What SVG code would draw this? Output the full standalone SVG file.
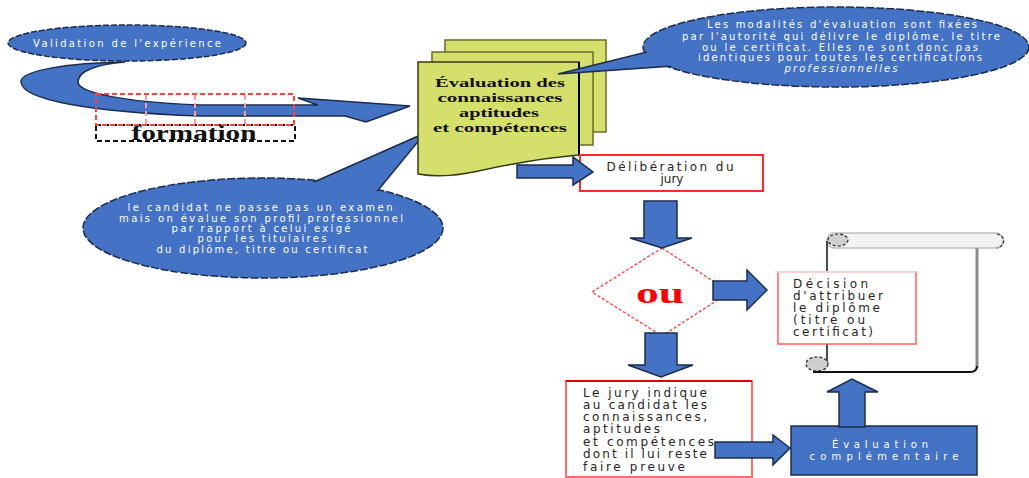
<svg xmlns="http://www.w3.org/2000/svg" width="1029" height="478" viewBox="0 0 1029 478">
<style>
.blue{fill:#4472c4;stroke:#1c2c4c;stroke-width:1.5}
.bfill{fill:#4472c4;stroke:none}
.wt{fill:#ffffff;font-family:"DejaVu Sans",sans-serif;font-size:10px;text-anchor:middle}
.dt{fill:#262626;font-family:"DejaVu Sans",sans-serif;font-size:12px}
.yel{fill:#d5df6c}
.ser{font-family:"Liberation Serif",serif;font-weight:bold;fill:#111}
</style>
<rect width="1029" height="478" fill="#ffffff"/>

<g id="validation">
  <ellipse cx="127" cy="43" rx="119" ry="18" class="blue" stroke-dasharray="6,2"/>
  <text class="wt" x="127" y="47" textLength="188" lengthAdjust="spacing">Validation de l'expérience</text>
</g>

<g id="formation">
  <rect x="96" y="125" width="199" height="16" fill="none" stroke="#111" stroke-width="2" stroke-dasharray="5,3"/>
  <text class="ser" x="194" y="140" font-size="20" text-anchor="middle" textLength="125" lengthAdjust="spacingAndGlyphs">formation</text>
</g>

<g id="callout-bas">
  <ellipse cx="263" cy="228" rx="180" ry="50" class="blue" stroke-dasharray="8,2"/>
  <polygon points="305,186 425,133 375,194" class="blue"/>
  <ellipse cx="263" cy="228" rx="178" ry="48" class="bfill"/>
  <text class="wt" x="260" y="211" textLength="265" lengthAdjust="spacing">le candidat ne passe pas un examen</text>
  <text class="wt" x="261" y="222" textLength="284" lengthAdjust="spacing">mais on évalue son profil professionnel</text>
  <text class="wt" x="261" y="232" textLength="179" lengthAdjust="spacing">par rapport à celui exigé</text>
  <text class="wt" x="262" y="242" font-size="9" textLength="129" lengthAdjust="spacing">pour les titulaires</text>
  <text class="wt" x="262" y="253" textLength="211" lengthAdjust="spacing">du diplôme, titre ou certificat</text>
</g>

<g id="evaluation">
  <rect x="445" y="40" width="161" height="92" class="yel" stroke="#6b6b2a" stroke-width="1.5"/>
  <rect x="432" y="52" width="161" height="93" class="yel" stroke="#6b6b2a" stroke-width="1.5"/>
  <path d="M418,62 L579,62 L579,155 C555,157 520,162 483,170 C460,175 440,178 418,174 Z" class="yel" stroke="#3a3a10" stroke-width="1.5"/>
  <line x1="579" y1="62" x2="579" y2="156" stroke="#000" stroke-width="2"/>
  <text class="ser" x="500" y="87" font-size="13" text-anchor="middle" textLength="130" lengthAdjust="spacingAndGlyphs">Évaluation des</text>
  <text class="ser" x="500" y="102" font-size="13" text-anchor="middle" textLength="125" lengthAdjust="spacingAndGlyphs">connaissances</text>
  <text class="ser" x="499" y="117" font-size="13" text-anchor="middle" textLength="80" lengthAdjust="spacingAndGlyphs">aptitudes</text>
  <text class="ser" x="500" y="132" font-size="13" text-anchor="middle" textLength="134" lengthAdjust="spacingAndGlyphs">et compétences</text>
</g>

<g id="callout-haut">
  <ellipse cx="836" cy="47" rx="193" ry="40" class="blue" stroke-dasharray="8,2"/>
  <polygon points="655,50 558,74 672,66" class="blue"/>
  <ellipse cx="836" cy="47" rx="191" ry="38" class="bfill"/>
  <text class="wt" x="842" y="28" textLength="270" lengthAdjust="spacing">Les modalités d'évaluation sont fixées</text>
  <text class="wt" x="841" y="40" textLength="318" lengthAdjust="spacing">par l'autorité qui délivre le diplôme, le titre</text>
  <text class="wt" x="840" y="51" textLength="276" lengthAdjust="spacing">ou le certificat. Elles ne sont donc pas</text>
  <text class="wt" x="840" y="61" textLength="284" lengthAdjust="spacing">identiques pour toutes les certifications</text>
  <text class="wt" x="841" y="72" font-style="italic" textLength="113" lengthAdjust="spacing">professionnelles</text>
</g>

<g id="deliberation">
  <rect x="580" y="155" width="183" height="36" fill="#fff" stroke="#ff2a2a" stroke-width="2"/>
  <text class="dt" x="670" y="171" text-anchor="middle" fill="#444" textLength="127" lengthAdjust="spacing">Délibération du</text>
  <text class="dt" x="672" y="183" text-anchor="middle" fill="#444">jury</text>
</g>

<g id="ou">
  <polygon points="662,248 730,292 662,336 592,292" fill="#fff" stroke="#ff5050" stroke-width="1.5" stroke-dasharray="3,2"/>
  <text x="660" y="303" font-family="Liberation Serif,serif" font-weight="bold" font-size="29" fill="#ff0000" text-anchor="middle" textLength="48" lengthAdjust="spacingAndGlyphs">ou</text>
</g>

<g id="parchemin">
  <rect x="827" y="233" width="176" height="15" rx="7" fill="#f2f2f2" stroke="#bdbdbd" stroke-width="1.5"/>
  <ellipse cx="838" cy="240" rx="10" ry="6" fill="#cfcfcf" stroke="#222" stroke-width="1.2" stroke-dasharray="3,2"/>
  <path d="M997,234 C1006,236 1006,246 997,248" fill="none" stroke="#222" stroke-width="1.2" stroke-dasharray="3,2"/>
  <line x1="827" y1="241" x2="827" y2="362" stroke="#111" stroke-width="1.5"/>
  <line x1="977" y1="248" x2="977" y2="368" stroke="#8a8a8a" stroke-width="3"/>
  <path d="M813,372 L970,372 C974,372 977,370 977,366" fill="none" stroke="#111" stroke-width="2"/>
  <ellipse cx="817" cy="364" rx="11" ry="7" fill="#cfcfcf" stroke="#222" stroke-width="1.2" stroke-dasharray="3,2"/>
</g>

<g id="decision">
  <rect x="778" y="272" width="138" height="72" fill="#fff" stroke="#ff6060" stroke-width="1.5"/>
  <line x1="778" y1="272" x2="916" y2="272" stroke="#ffd0d0" stroke-width="2"/>
  <text class="dt" x="793" y="288" textLength="75" lengthAdjust="spacing">Décision</text>
  <text class="dt" x="793" y="300" textLength="90" lengthAdjust="spacing">d'attribuer</text>
  <text class="dt" x="793" y="312" textLength="87" lengthAdjust="spacing">le diplôme</text>
  <text class="dt" x="793" y="324" textLength="72" lengthAdjust="spacing">(titre ou</text>
  <text class="dt" x="793" y="336" textLength="80" lengthAdjust="spacing">certificat)</text>
</g>

<g id="jury-indique">
  <rect x="566" y="381" width="186" height="96" fill="#fff" stroke="#ff6b6b" stroke-width="2"/>
  <line x1="566" y1="381" x2="752" y2="381" stroke="#e00000" stroke-width="2"/>
  <text class="dt" x="583" y="397" textLength="124" lengthAdjust="spacing">Le jury indique</text>
  <text class="dt" x="583" y="409" textLength="124" lengthAdjust="spacing">au candidat les</text>
  <text class="dt" x="583" y="421" textLength="124" lengthAdjust="spacing">connaissances,</text>
  <text class="dt" x="583" y="433" textLength="77" lengthAdjust="spacing">aptitudes</text>
  <text class="dt" x="583" y="446" textLength="131" lengthAdjust="spacing">et compétences</text>
  <text class="dt" x="583" y="458" textLength="124" lengthAdjust="spacing">dont il lui reste</text>
  <text class="dt" x="583" y="471" textLength="102" lengthAdjust="spacing">faire preuve</text>
</g>

<g id="evaluation-complementaire">
  <rect x="791" y="426" width="186" height="49" class="blue"/>
  <text class="wt" x="880" y="448" font-size="12" textLength="96" lengthAdjust="spacing">Évaluation</text>
  <text class="wt" x="884" y="460" font-size="12" textLength="149" lengthAdjust="spacing">complémentaire</text>
</g>

<g id="connectors">
  <path d="M125,62 C70,63 20,70 21,82 C22,100 90,112 200,116 L345,116 L366,122 L410,106 L298,98 L318,105 L200,105 C120,102 78,92 78,82 C78,70 100,64 125,62 Z" class="blue"/>
  <g fill="none" stroke="#ff4040" stroke-width="2" stroke-dasharray="5,3">
    <rect x="96" y="94" width="198" height="31"/>
    <line x1="146" y1="95" x2="146" y2="124" stroke="#ff9a9a"/>
    <line x1="195" y1="95" x2="195" y2="124" stroke="#ff9a9a"/>
    <line x1="245" y1="95" x2="245" y2="124" stroke="#ff9a9a"/>
  </g>
  <polygon points="517,165 573,165 573,157 593,172 573,185 573,178 517,178" class="blue"/>
  <polygon points="644,201 677,201 677,238 692,238 662,248 630,238 644,238" class="blue"/>
  <polygon points="713,281 747,281 747,270 767,290 747,310 747,300 713,300" class="blue"/>
  <polygon points="645,333 677,333 677,365 693,365 661,377 628,365 645,365" class="blue"/>
  <polygon points="715,442 773,442 773,435 790,448 773,465 773,458 715,458" class="blue"/>
  <polygon points="839,427 839,392 827,392 852,379 878,392 865,392 865,427" class="blue"/>
</g>
</svg>
